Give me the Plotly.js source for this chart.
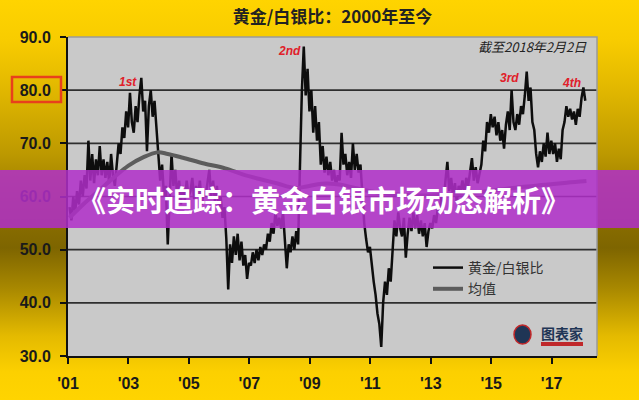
<!DOCTYPE html>
<html>
<head>
<meta charset="utf-8">
<script src="https://cdn.plot.ly/plotly-3.0.1.min.js"></script>
<style>
  html, body { margin: 0; padding: 0; }
  #chart {
    width: 639px; height: 400px;
    background: linear-gradient(to bottom, #FFD400 0%, #F8CC00 10%, #E2B800 22%, #BE9A00 38%, #8A6E00 55%, #7E6500 62%, #A88800 72%, #E4BA00 84%, #FCD000 93%, #FFD400 100%);
  }
</style>
</head>
<body>
<div id="chart"></div>
<script>
// ---- Data ----
const title = '黄金/白银比：2000年至今';
const seriesName = '黄金/白银比';
const meanName = '均值';
const asOfText = '截至2018年2月2日';
const bannerText = '《实时追踪：黄金白银市场动态解析》';

// x tick positions / labels
const xTickVals = [2001, 2003, 2005, 2007, 2009, 2011, 2013, 2015, 2017];
const xTickText = ["'01", "'03", "'05", "'07", "'09", "'11", "'13", "'15", "'17"];
const yTickVals = [30, 40, 50, 60, 70, 80, 90];
const yTickText = ['30.0', '40.0', '50.0', '60.0', '70.0', '80.0', '90.0'];
const gridVals = [40, 50, 60, 70, 80];

// Gold/silver ratio, 16 readings per year (starting each year at +0.05)
const r2001 = [58, 55.5, 60, 57, 61, 58.5, 63, 60, 64, 61.5, 70.5, 63, 68, 62.5, 67, 64];
const r2002 = [69.5, 64, 67, 63.5, 66.5, 62.5, 68, 64, 62, 66, 70, 68, 73, 71, 76, 73];
const r2003 = [79.5, 74, 72, 77, 74, 79, 82.3, 76, 78, 68.5, 77, 80, 75, 78, 72, 68];
const r2004 = [63, 66, 60, 62, 51, 60, 68, 62, 65, 60, 63, 58.5, 62, 59, 63, 60];
const r2005 = [61, 63.5, 59.5, 62, 60, 63, 58.5, 61, 60, 62.5, 65, 60, 63, 59, 62, 58];
const r2006 = [60, 56, 58, 52, 42.5, 51, 47.5, 52.5, 49, 53, 48, 51.5, 47, 49, 44.5, 47.5];
const r2007 = [47, 49.5, 47.5, 50, 48, 50.5, 49, 51, 50, 53, 51.5, 55, 53, 57, 54.5, 56];
const r2008 = [54, 57, 52, 46.5, 51, 49.5, 52.5, 50, 53.5, 51, 66, 80, 88.2, 79, 84, 76];
const r2009 = [80, 72, 77, 70.5, 74, 66, 69.5, 64.5, 67.5, 64, 66.5, 63, 65, 62, 64, 63];
const r2010 = [72, 66, 68, 64, 66.5, 63.5, 70, 65, 68, 64.5, 66, 60, 55, 52, 49.5, 50.5];
const r2011 = [46.5, 44, 41.5, 38, 36, 31.7, 40, 44, 41.5, 46.5, 44, 50, 55.5, 52.5, 57, 54];
const r2012 = [52.5, 56, 48.5, 53, 56, 53.5, 57, 54, 56.5, 53, 55.5, 52.5, 55, 50.5, 53.5, 55];
const r2013 = [54, 56.5, 55, 58, 57, 60.5, 59, 63, 66.5, 61, 63.5, 60, 62.5, 59, 62, 61];
const r2014 = [63, 60.5, 63.5, 62, 65, 67.2, 63, 65.5, 62.5, 64.5, 66, 70.5, 68.5, 74, 72, 75.5];
const r2015 = [73, 75, 71.5, 74, 70.5, 72.5, 69, 73.5, 76, 72.5, 80, 74, 72.5, 75.5, 73.5, 77];
const r2016 = [75.5, 79, 83.5, 78, 80.5, 74, 72.5, 68, 65.5, 68.5, 66.5, 70, 67.5, 72, 68, 70.5];
const r2017 = [68, 70, 66.5, 69, 67, 72.5, 74, 77, 75, 76.5, 74.5, 76, 73.5, 76.5, 75, 78.5];
const r2018 = [80.5, 78];

// Long-run mean line
const meanX = [2001.05, 2001.5, 2002.0, 2002.5, 2003.0, 2003.5, 2003.95, 2004.3, 2004.8, 2005.5,
               2006.2, 2006.8, 2007.4, 2007.9, 2008.5, 2008.9, 2009.4, 2009.9, 2010.5, 2011.0,
               2011.5, 2012.2, 2013.0, 2013.8, 2014.6, 2015.3, 2016.0, 2016.8, 2017.5, 2018.15];
const meanY = [56, 58.5, 61, 63.5, 65.8, 67.4, 68.3, 68.0, 67.3, 66.2,
               65.3, 64.1, 63.2, 62.5, 61.6, 61.9, 62.4, 62.3, 61.6, 61.0,
               60.6, 60.3, 60.2, 60.4, 60.8, 61.3, 61.8, 62.2, 62.6, 62.9];

// Peak labels
const peakLabels = ['1st', '2nd', '3rd', '4th'];
const peakX = [2002.98, 2008.34, 2015.61, 2017.66];
const peakY = [81.5, 87.4, 82.3, 81.4];

// ---- Build series ----
const yearBlocks = [[2001, r2001], [2002, r2002], [2003, r2003], [2004, r2004], [2005, r2005],
  [2006, r2006], [2007, r2007], [2008, r2008], [2009, r2009], [2010, r2010], [2011, r2011],
  [2012, r2012], [2013, r2013], [2014, r2014], [2015, r2015], [2016, r2016], [2017, r2017], [2018, r2018]];
const ratioX = [], ratioY = [];
yearBlocks.forEach(([yr, arr]) => {
  arr.forEach((v, k) => { ratioX.push(yr + 0.05 + k / 16); ratioY.push(v); });
});

const CJK = '"Noto Sans CJK SC", "Liberation Sans", sans-serif';
const ARIAL = '"Liberation Sans", Arial, sans-serif';

const traces = [
  { x: ratioX, y: ratioY, type: 'scatter', mode: 'lines', name: seriesName,
    line: { color: '#0d0d0d', width: 2.5 } },
  { x: meanX, y: meanY, type: 'scatter', mode: 'lines', name: meanName,
    line: { color: '#5c5c5c', width: 4, shape: 'spline' } }
];

// plot area pixel geometry helpers (for paper-space decorations)
const L = 68, R = 597, T = 37, B = 356;
const px2x = p => (p - L) / (R - L);
const py2y = p => (B - p) / (B - T);

const shapes = [];
gridVals.forEach(g => shapes.push({ type: 'line', xref: 'paper', yref: 'y', x0: 0, x1: 1, y0: g, y1: g,
  line: { color: '#2e2e2e', width: 1.6 }, layer: 'below' }));
// top & right frame
shapes.push({ type: 'path', xref: 'paper', yref: 'paper', path: 'M 0,1 L 1,1 L 1,0',
  line: { color: '#9a9a9a', width: 1.5 }, layer: 'below' });
// red highlight box around 80.0
shapes.push({ type: 'rect', xref: 'paper', yref: 'paper', x0: px2x(12), x1: px2x(61), y0: py2y(102), y1: py2y(77),
  line: { color: '#E8401C', width: 2.5 } });
// banner
shapes.push({ type: 'rect', xref: 'paper', yref: 'paper', x0: px2x(0), x1: px2x(639), y0: py2y(228), y1: py2y(170),
  fillcolor: 'rgba(176,46,200,0.86)', line: { width: 0 }, layer: 'above' });
// logo bits
shapes.push({ type: 'circle', xref: 'paper', yref: 'paper', x0: px2x(514), x1: px2x(531), y0: py2y(344), y1: py2y(325),
  fillcolor: '#1f3555', line: { color: '#c0282a', width: 1.5 } });
shapes.push({ type: 'rect', xref: 'paper', yref: 'paper', x0: px2x(541), x1: px2x(583), y0: py2y(346), y1: py2y(342),
  fillcolor: '#c0282a', line: { width: 0 } });

const annotations = [
  { text: asOfText, xref: 'paper', yref: 'paper', x: px2x(589), y: py2y(46), xanchor: 'right', yanchor: 'middle',
    showarrow: false, font: { family: CJK, size: 13, color: '#222', style: 'italic' } },
  { text: bannerText, xref: 'paper', yref: 'paper', x: px2x(323), y: py2y(199), xanchor: 'center', yanchor: 'middle',
    showarrow: false, font: { family: CJK, size: 29, color: '#ffffff', weight: 'bold' } },
  { text: '图表家', xref: 'paper', yref: 'paper', x: px2x(562), y: py2y(333), xanchor: 'center', yanchor: 'middle',
    showarrow: false, font: { family: CJK, size: 14, color: '#1f3555', weight: 'bold' } }
];
peakLabels.forEach((t, i) => annotations.push({
  text: t, x: peakX[i], y: peakY[i], xref: 'x', yref: 'y', showarrow: false, xanchor: 'center', yanchor: 'middle',
  font: { family: ARIAL, size: 12, color: '#E0202A', weight: 'bold', style: 'italic' }
}));

const layout = {
  width: 639, height: 400,
  margin: { l: L, r: 639 - R, t: T, b: 400 - B, pad: 0 },
  paper_bgcolor: 'rgba(0,0,0,0)',
  plot_bgcolor: '#c9c9c9',
  font: { family: ARIAL, color: '#222' },
  title: { text: title, x: 0.5, xanchor: 'center', y: 1 - 17 / 400, yanchor: 'middle', xref: 'paper',
    font: { family: CJK, size: 17, color: '#222', weight: 'bold' } },
  xaxis: {
    range: [2001, 2018.5], tickvals: xTickVals, ticktext: xTickText,
    showgrid: false, zeroline: false, showline: true, linecolor: '#111', linewidth: 2,
    ticks: 'outside', ticklen: 6, tickwidth: 2, tickcolor: '#111', ticklabelstandoff: 6,
    tickfont: { family: ARIAL, size: 16, color: '#1a1a1a', weight: 'bold' }, fixedrange: true
  },
  yaxis: {
    range: [30, 90], tickvals: yTickVals, ticktext: yTickText,
    showgrid: false, zeroline: false, showline: true, linecolor: '#111', linewidth: 2,
    ticks: 'outside', ticklen: 6, tickwidth: 2, tickcolor: '#111', ticklabelstandoff: 6,
    tickfont: { family: ARIAL, size: 16, color: '#1a1a1a', weight: 'bold' }, fixedrange: true
  },
  showlegend: true,
  legend: { x: px2x(428), y: py2y(252), xanchor: 'left', yanchor: 'top', bgcolor: 'rgba(0,0,0,0)',
    font: { family: CJK, size: 14, color: '#333' } },
  shapes: shapes,
  annotations: annotations
};

Plotly.newPlot('chart', traces, layout, { displayModeBar: false, staticPlot: true });
</script>
</body>
</html>
